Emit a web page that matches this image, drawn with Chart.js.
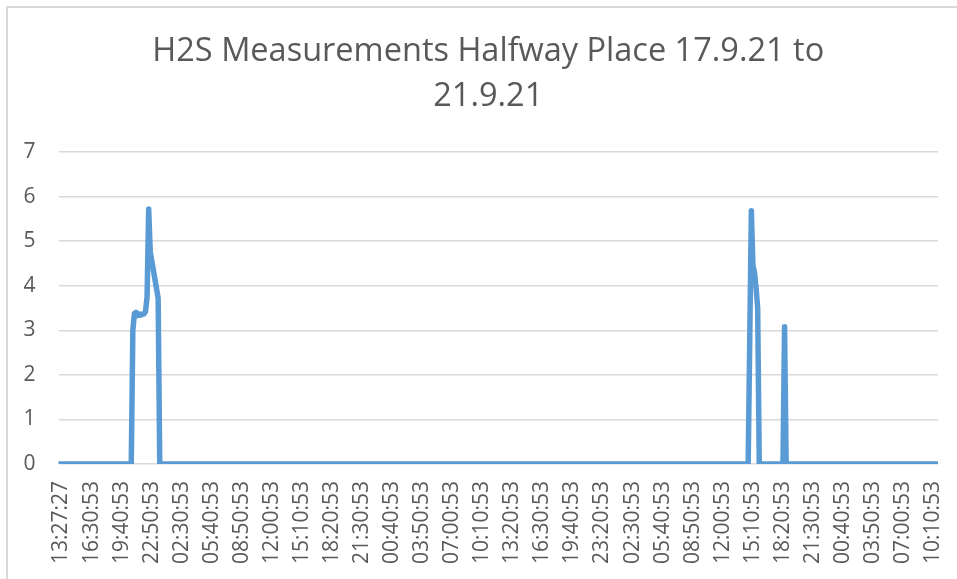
<!DOCTYPE html>
<html>
<head>
<meta charset="utf-8">
<title>H2S Measurements</title>
<script src="https://cdn.jsdelivr.net/npm/chart.js@4"></script>
<style>
    html, body { margin: 0; padding: 0; background: #ffffff; }
    #wrap { position: relative; width: 957px; height: 579px; overflow: hidden; }
    #frame {
        position: absolute; left: 6px; top: 6px; width: 1000px; height: 1000px;
        border-left: 2px solid #d9d9d9; border-top: 2px solid #d9d9d9;
    }
    #h2sChart { position: absolute; left: 0; top: 0; }
</style>
</head>
<body>
<div id="wrap">
    <div id="frame"></div>
    <canvas id="h2sChart" width="957" height="579"></canvas>
</div>
<script>
// category labels shown on the x axis (one every LABEL_STEP samples)
const xLabels = [
    "13:27:27", "16:30:53", "19:40:53", "22:50:53", "02:30:53", "05:40:53",
    "08:50:53", "12:00:53", "15:10:53", "18:20:53", "21:30:53", "00:40:53",
    "03:50:53", "07:00:53", "10:10:53", "13:20:53", "16:30:53", "19:40:53",
    "23:20:53", "02:30:53", "05:40:53", "08:50:53", "12:00:53", "15:10:53",
    "18:20:53", "21:30:53", "00:40:53", "03:50:53", "07:00:53", "10:10:53"
];
const LABEL_STEP = 19;
const LAST_SAMPLE = 556;

// sample number where the reading changes, and the reading (ppm) there
const sampleIndex = [0, 46, 47, 48, 49, 50, 51, 52, 53, 54, 55, 56, 57, 58, 63, 64,
                     436, 438, 439, 440, 441, 442, 443,
                     458, 459, 460, 556];
const h2sPpm = [0, 0, 3.0, 3.38, 3.4, 3.33, 3.37, 3.34, 3.36, 3.37, 3.42, 3.75, 5.72, 4.76, 3.72, 0,
                0, 5.68, 4.45, 4.3, 3.95, 3.5, 0,
                0, 3.08, 0, 0];

const yTicks = [0, 1, 2, 3, 4, 5, 6, 7];

const textColor = "#595959";
const gridColor = "#d9d9d9";
const lineColor = "#5b9bd5";
const fontFamily = "'Open Sans', 'Liberation Sans', sans-serif";

// the original title sits a little right of the plot centre
const titleShift = {
    id: "titleShift",
    afterLayout(chart) {
        if (chart.titleBlock) {
            chart.titleBlock.left += 15;
            chart.titleBlock.right += 15;
        }
    }
};

document.addEventListener("DOMContentLoaded", () => {
    const points = sampleIndex.map((x, i) => ({ x: x, y: h2sPpm[i] }));
    const ctx = document.getElementById("h2sChart").getContext("2d");

    new Chart(ctx, {
        type: "line",
        data: {
            datasets: [{
                label: "H2S",
                data: points,
                borderColor: lineColor,
                borderWidth: 5.5,
                borderJoinStyle: "round",
                borderCapStyle: "round",
                pointRadius: 0,
                tension: 0,
                fill: false
            }]
        },
        plugins: [titleShift],
        options: {
            responsive: false,
            animation: false,
            layout: { padding: { left: 8.5, right: 19, top: 0, bottom: 0 } },
            plugins: {
                legend: { display: false },
                tooltip: { enabled: false },
                title: {
                    display: true,
                    text: ["H2S Measurements Halfway Place 17.9.21 to", "21.9.21"],
                    color: textColor,
                    font: { family: fontFamily, size: 32.5, weight: "normal", lineHeight: 1.38 },
                    padding: { top: 29, bottom: 33.3 }
                }
            },
            scales: {
                x: {
                    type: "linear",
                    min: 0,
                    max: LAST_SAMPLE,
                    afterBuildTicks: scale => {
                        scale.ticks = xLabels.map((_, i) => ({ value: i * LABEL_STEP }));
                    },
                    afterFit: scale => {
                        scale.height = 115;
                        scale.paddingLeft = 0;
                        scale.paddingRight = 0;
                    },
                    grid: { display: false, drawTicks: false },
                    border: { display: false },
                    ticks: {
                        autoSkip: false,
                        minRotation: 90,
                        maxRotation: 90,
                        padding: 17,
                        labelOffset: 3,
                        color: textColor,
                        font: { family: fontFamily, size: 21 },
                        callback: value => xLabels[Math.round(value / LABEL_STEP)]
                    }
                },
                y: {
                    min: yTicks[0],
                    max: yTicks[yTicks.length - 1],
                    afterFit: scale => { scale.width = 50; },
                    grid: { color: gridColor, lineWidth: 1.5, drawTicks: false },
                    border: { display: false },
                    ticks: {
                        stepSize: 1,
                        padding: 23,
                        color: textColor,
                        font: { family: fontFamily, size: 21 }
                    }
                }
            }
        }
    });
});
</script>
</body>
</html>
